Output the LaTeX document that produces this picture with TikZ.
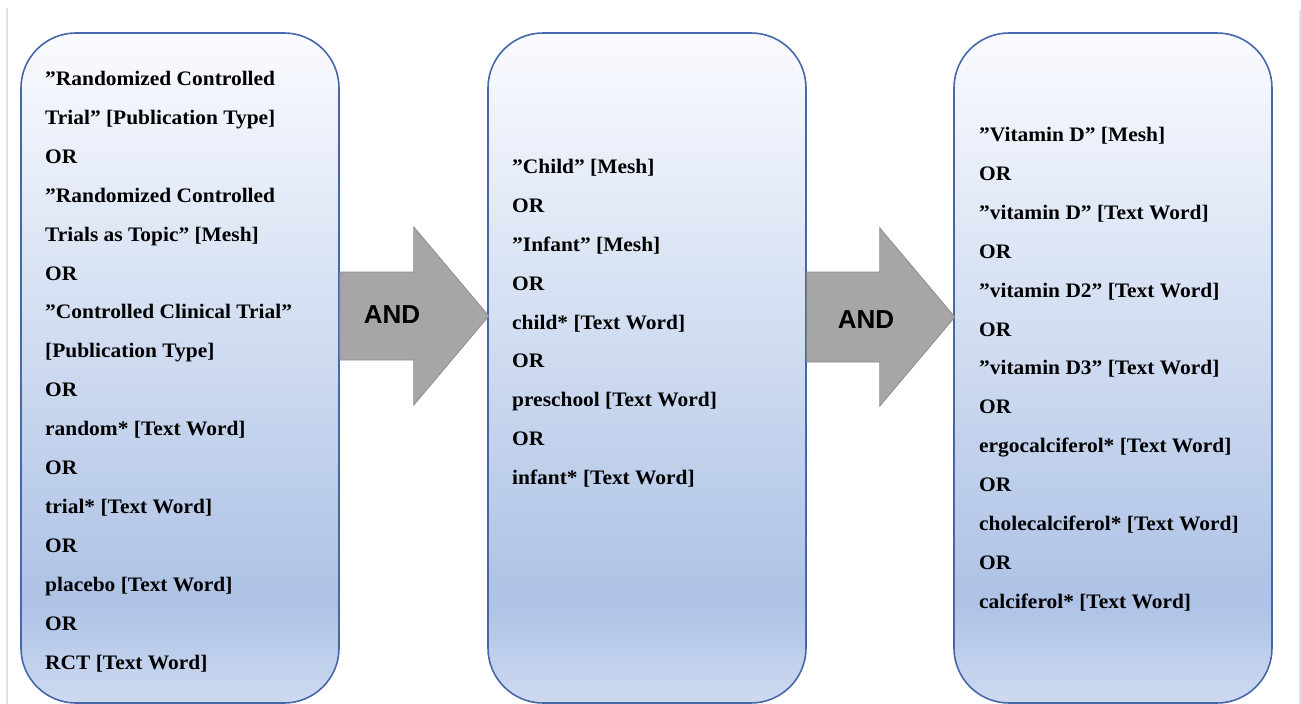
\documentclass[tikz,border=0pt]{standalone}
\usepackage{fontspec}
\setmainfont{Liberation Serif}[FakeStretch=1.04]
\newfontfamily\andfont{Liberation Sans}
\usepackage{tikz}

\definecolor{boxline}{HTML}{4668A8}
\definecolor{boxtop}{HTML}{FAFBFF}
\definecolor{boxmid}{HTML}{ADC2E5}
\definecolor{boxbot}{HTML}{CEDAF1}
\definecolor{arrowfill}{HTML}{A6A6A6}
\definecolor{arrowline}{HTML}{8C8C8C}
\definecolor{edgegray}{HTML}{E2E2E2}

% bbox of the path is mapped to 25bp..75bp
\pgfdeclareverticalshading{boxshade}{100bp}{color(0bp)=(boxbot); color(25bp)=(boxbot);
  color(32.5bp)=(boxmid); color(75bp)=(boxtop); color(100bp)=(boxtop)}

\begin{document}
\begin{tikzpicture}[x=1pt,y=-1pt]
    \tikzstyle{querybox}=[draw=boxline,line width=1.6pt,rounded corners=55pt,
                          shading=boxshade,minimum width=318pt,minimum height=670pt]
    \tikzstyle{querytext}=[anchor=north west,align=left,inner sep=0pt,
                           font=\fontsize{20.6}{38.9}\selectfont\bfseries]
    \tikzstyle{andarrow}=[draw=arrowline,fill=arrowfill,line width=0.8pt,line join=miter]
    \tikzstyle{andlabel}=[font=\andfont\fontsize{26}{30}\selectfont\bfseries,inner sep=0pt]

      \useasboundingbox (0,0) rectangle (1301,704);
      \fill[white] (0,0) rectangle (1301,704);
      \draw[edgegray,line width=2pt] (7,8) -- (7,704);
      \draw[edgegray,line width=2pt] (1300,10) -- (1300,704);

      % the three search blocks
      \node[querybox] (b1) at (180,368) {};
      \node[querybox] (b2) at (647,368) {};
      \node[querybox] (b3) at (1113,368) {};

      \node[querytext] (q1) at (45,71) {%
        ”Randomized Controlled\\ Trial” [Publication Type]\\ OR\\
        ”Randomized Controlled\\ Trials as Topic” [Mesh]\\ OR\\
        ”Controlled Clinical Trial”\\ {[}Publication Type]\\ OR\\
        random* [Text Word]\\ OR\\ trial* [Text Word]\\ OR\\
        placebo [Text Word]\\ OR\\ RCT [Text Word]};
      \node[querytext] (q2) at (512,159) {%
        ”Child” [Mesh]\\ OR\\ ”Infant” [Mesh]\\ OR\\ child* [Text Word]\\ OR\\
        preschool [Text Word]\\ OR\\ infant* [Text Word]};
      \node[querytext] (q3) at (979,127) {%
        ”Vitamin D” [Mesh]\\ OR\\ ”vitamin D” [Text Word]\\ OR\\
        ”vitamin D2” [Text Word]\\ OR\\ ”vitamin D3” [Text Word]\\ OR\\
        ergocalciferol* [Text Word]\\ OR\\ cholecalciferol* [Text Word]\\ OR\\
        calciferol* [Text Word]};

      % AND arrows
      \draw[andarrow] (b1.east |- 0,272) -- ++(74,0) -- ++(0,-45) -- ++(75,89)
        -- ++(-75,89) -- ++(0,-45) -- ++(-74,0) -- cycle;
      \draw[andarrow] (b2.east |- 0,272) -- ++(73,0) -- ++(0,-44) -- ++(75,89)
        -- ++(-75,89) -- ++(0,-44) -- ++(-73,0) -- cycle;
      \node[andlabel] (and1) at (392,315) {AND};
      \node[andlabel] (and2) at (866,320) {AND};
    \end{tikzpicture}
\end{document}
